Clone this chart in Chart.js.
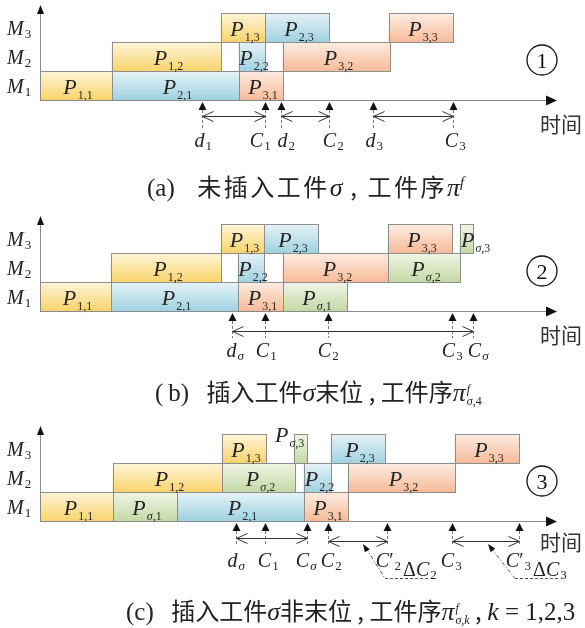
<!DOCTYPE html>
<html lang="zh">
<head>
<meta charset="UTF-8">
<title>插入工件σ的调度示意</title>
<script src="https://cdn.jsdelivr.net/npm/chart.js"></script>
<style>
  body { margin: 0; background: #fff; }
  #wrap { position: relative; width: 585px; height: 628px; overflow: hidden; }
  #wrap canvas { position: absolute; left: 0; }
  .cap { position: absolute; white-space: nowrap; color: #222; z-index: 2; letter-spacing: 0;
         font-family: "Noto Sans CJK SC", sans-serif; font-size: 24px; line-height: 28px; }
  .cap .m { font-family: "Liberation Serif", serif; font-size: 25px; letter-spacing: 0; }
  .cap i { font-family: "Liberation Serif", serif; font-size: 26px; letter-spacing: 0; }
  .cap.wide { letter-spacing: 2.5px; }
  .ss { display: inline-flex; flex-direction: column; font-family: "Liberation Serif", serif;
        font-size: 12px; line-height: 12px; vertical-align: 8px; margin-left: 1px; letter-spacing: 0; }
  .ss i, .ss span { font-size: 12px; }
  sup { font-size: 15px; letter-spacing: 0; }
  sup i { font-size: 15px !important; }
</style>
</head>
<body>
<div id="wrap">
  <canvas id="ca" width="585" height="200" style="top:0px"></canvas>
  <canvas id="cb" width="585" height="200" style="top:211px"></canvas>
  <canvas id="cc" width="585" height="200" style="top:421px"></canvas>

  <div class="cap wide" style="left:147px; top:167px"><span class="m">(a)</span>&ensp; 未插入工件<i>σ</i> , 工件序<i>π</i><sup><i>f</i></sup></div>
  <div class="cap" style="left:155px; top:377px"><span class="m">(&thinsp;b)</span>&ensp; 插入工件<i>σ</i>末位 , 工件序<i>π</i><span class="ss"><i>f</i><span><i>σ</i>,4</span></span></div>
  <div class="cap" style="left:126px; top:596px"><span class="m">(c)</span>&ensp; 插入工件<i>σ</i>非末位 , 工件序<i>π</i><span class="ss"><i>f</i><span><i>σ</i>,<i>k</i></span></span> , <i>k</i><span class="m"> = 1,2,3</span></div>
</div>

<script>
// machines, top row first
const machines = ['M3', 'M2', 'M1'];

// each job: [start, end] on M1, M2, M3 (time units)
// (a) without job sigma
const aJob1 = [[0, 72], [72, 181], [181, 225]];
const aJob2 = [[72, 199], [199, 225], [225, 289]];
const aJob3 = [[199, 243], [243, 350], [349, 413]];
const aMarkX = [162, 225, 241, 289, 333, 413];
const aMarkLabels = [['d', '1'], ['C', '1'], ['d', '2'], ['C', '2'], ['d', '3'], ['C', '3']];
const aSpans = [[162, 225], [241, 289], [333, 413]];

// (b) sigma appended last
const bJob1 = [[0, 71], [71, 181], [181, 224]];
const bJob2 = [[71, 198], [198, 224], [224, 278]];
const bJob3 = [[198, 243], [243, 348], [348, 412]];
const bJobS = [[243, 307], [348, 420], [420, 433]];
const bMarkX = [192, 225, 288, 412, 433];
const bMarkLabels = [['d', 'σ'], ['C', '1'], ['C', '2'], ['C', '3'], ['C', 'σ']];
const bSpans = [[192, 433]];

// (c) sigma inserted not last
const cJob1 = [[0, 73], [73, 182], [182, 226]];
const cJobS = [[73, 137], [182, 255], [254, 267]];
const cJob2 = [[137, 264], [264, 291], [291, 345]];
const cJob3 = [[264, 308], [308, 415], [415, 479]];
const cMarkX = [196, 225, 267, 288, 347, 412, 479];
const cMarkLabels = [['d', 'σ'], ['C', '1'], ['C', 'σ'], ['C', '2'], ['C′', '2'], ['C', '3'], ['C′', '3']];
const cSpans = [[196, 267], [288, 347], [412, 479]];
const cDeltaLabels = [['ΔC', '2'], ['ΔC', '3']];
const cDeltaAfter = [4, 6];
const cLeaders = [[323, 345, 388], [448, 475, 520]];

const SERIF = '"Liberation Serif", "DejaVu Serif", serif';
const jobColors = {
  '1': ['#fef6da', '#f9d36c'],
  '2': ['#e6f3f7', '#9fd1e0'],
  '3': ['#fdede3', '#f6bb99'],
  'σ': ['#f0f5e6', '#c4d9a6']
};

function fillFor(c, key) {
  const pal = jobColors[key];
  const ys = c.chart.scales.y;
  if (c.type !== 'data' || !ys || !c.raw) return pal[1];
  const h = (ys.bottom - ys.top) / machines.length;
  const yc = ys.getPixelForValue(machines.indexOf(c.raw.y));
  if (!Number.isFinite(yc) || !Number.isFinite(h) || h <= 0) return pal[1];
  const g = c.chart.ctx.createLinearGradient(0, yc - h / 2, 0, yc + h / 2);
  g.addColorStop(0, pal[0]);
  g.addColorStop(1, pal[1]);
  return g;
}

// italic letters, upright digits/greek capitals; returns width
function mathRun(ctx, x, y, main, sub, size, subSize, drop, draw) {
  let cx = x;
  const put = (ch, sz, yy) => {
    const it = /[A-Za-zσ]/.test(ch);
    ctx.font = (it ? 'italic ' : '') + sz + 'px ' + SERIF;
    if (draw) ctx.fillText(ch, cx, yy);
    cx += ctx.measureText(ch).width;
  };
  for (const ch of main) put(ch, size, y);
  cx += 1;
  for (const ch of sub) put(ch, subSize, y + drop);
  return cx - x;
}

function line(ctx, x1, y1, x2, y2) {
  ctx.beginPath(); ctx.moveTo(x1, y1); ctx.lineTo(x2, y2); ctx.stroke();
}
function tri(ctx, pts) {
  ctx.beginPath(); ctx.moveTo(pts[0], pts[1]); ctx.lineTo(pts[2], pts[3]); ctx.lineTo(pts[4], pts[5]);
  ctx.closePath(); ctx.fill();
}

function panelPlugin(p) {
  return {
    id: 'panel_' + p.id,
    afterDatasetsDraw(chart) {
      const { ctx, chartArea: a, scales } = chart;
      const X = v => scales.x.getPixelForValue(v);
      const ys = scales.y;
      const yb = Math.round(a.bottom);
      ctx.save();
      ctx.textAlign = 'left';
      ctx.textBaseline = 'alphabetic';

      // bar outlines + names
      chart.data.datasets.forEach((ds, di) => {
        chart.getDatasetMeta(di).data.forEach((bar, i) => {
          const pr = bar.getProps(['x', 'base', 'y', 'height'], true);
          const l = Math.round(Math.min(pr.x, pr.base)), r = Math.round(Math.max(pr.x, pr.base));
          const t = Math.round(pr.y - pr.height / 2);
          ctx.strokeStyle = '#8e8e8e'; ctx.lineWidth = 1; ctx.setLineDash([]);
          ctx.strokeRect(l + 0.5, t + 0.5, r - l, Math.round(pr.height));
        });
      });
      chart.data.datasets.forEach((ds, di) => {
        chart.getDatasetMeta(di).data.forEach((bar, i) => {
          const pr = bar.getProps(['x', 'base', 'y', 'height'], true);
          const l = Math.min(pr.x, pr.base), r = Math.max(pr.x, pr.base);
          const t = pr.y - pr.height / 2;
          const sub = ds.label + ',' + (i + 1);
          const mode = p.place[sub] || 'center';
          const w = mathRun(ctx, 0, 0, 'P', sub, 22, 12, 5, false);
          let lx = (l + r) / 2 - w / 2 + 2, ly = pr.y + 8;
          if (mode === 'start') lx = l + 1;
          if (mode === 'outside') { lx = l - 19; ly = t + 8; }
          ctx.fillStyle = '#262626';
          mathRun(ctx, lx, ly, 'P', sub, 22, 12, 5, true);
        });
      });

      // machine names
      ctx.fillStyle = '#222';
      ['M1', 'M2', 'M3'].forEach((m, k) => {
        const yc = ys.getPixelForValue(machines.indexOf(m));
        mathRun(ctx, 7, yc + 7, 'M', String(k + 1), 20, 13, 3, true);
      });

      // axes
      const x0 = Math.round(X(0)) + 0.5;
      ctx.strokeStyle = '#8a8a8a'; ctx.lineWidth = 1;
      line(ctx, x0, yb, x0, a.top - 2);
      ctx.fillStyle = '#111';
      tri(ctx, [x0, a.top - 8, x0 - 3.5, a.top + 1, x0 + 3.5, a.top + 1]);
      const tip = a.right - 3;
      ctx.strokeStyle = '#8a8a8a';
      line(ctx, x0, yb + 0.5, tip - 8, yb + 0.5);
      tri(ctx, [tip, yb + 0.5, tip - 11, yb - 4.5, tip - 11, yb + 5.5]);

      // due dates / completion markers
      p.marks.forEach((v, i) => {
        const mx = Math.round(X(v)) + 0.5;
        ctx.fillStyle = '#111';
        tri(ctx, [mx, yb + 2, mx - 4, yb + 10, mx + 4, yb + 10]);
        ctx.strokeStyle = '#777'; ctx.lineWidth = 1; ctx.setLineDash([3, 2]);
        line(ctx, mx, yb + 10, mx, yb + p.dashLen);
        ctx.setLineDash([]);
        const [main, sub] = p.markLabels[i];
        ctx.font = 'italic 20px ' + SERIF;
        const w0 = ctx.measureText(main[0]).width;
        ctx.fillStyle = '#222';
        const lx = mx - 3 + p.nudge[i] - w0 / 2;
        const w = mathRun(ctx, lx, yb + p.labelY, main, sub, 20, 13, 3, true);
        const di = p.deltaAfter ? p.deltaAfter.indexOf(i) : -1;
        if (di >= 0) {
          const [dm, ds] = p.deltaLabels[di];
          mathRun(ctx, lx + w + 2, yb + p.labelY + 9, dm, ds, 20, 13, 3, true);
        }
      });

      // interval arrows
      ctx.strokeStyle = '#333'; ctx.lineWidth = 1;
      p.spans.forEach(([s, e], i) => {
        const yy = yb + p.spanY[i] + 0.5;
        const l = Math.round(X(s)) + 0.5, r = Math.round(X(e)) + 0.5;
        line(ctx, l, yy, r, yy);
        ctx.beginPath(); ctx.moveTo(l + 11, yy - 5); ctx.lineTo(l, yy); ctx.lineTo(l + 11, yy + 5); ctx.stroke();
        ctx.beginPath(); ctx.moveTo(r - 11, yy - 5); ctx.lineTo(r, yy); ctx.lineTo(r - 11, yy + 5); ctx.stroke();
      });

      // leader lines for delta labels
      (p.leaders || []).forEach(([tx, ex, rx]) => {
        const ty = yb + 23, ey = yb + 57.5;
        const x1 = X(tx), x2 = X(ex), x3 = X(rx);
        ctx.strokeStyle = '#555'; ctx.lineWidth = 1;
        ctx.setLineDash([4, 2, 1, 2]);
        line(ctx, x1 + 3, ty + 4, x2, ey);
        ctx.setLineDash([3, 2]);
        line(ctx, x2, ey, x3, ey);
        ctx.setLineDash([]);
        const ang = Math.atan2(ty - ey, x1 - x2);
        const L = 8, Wd = 3;
        const bx = x1 - L * Math.cos(ang), by = ty - L * Math.sin(ang);
        ctx.fillStyle = '#111';
        tri(ctx, [x1, ty, bx + Wd * Math.sin(ang), by - Wd * Math.cos(ang), bx - Wd * Math.sin(ang), by + Wd * Math.cos(ang)]);
      });

      // circled index
      const cx = a.right - 18, cy = yb - 40;
      ctx.strokeStyle = '#111'; ctx.lineWidth = 1.3;
      ctx.beginPath(); ctx.arc(cx, cy, 15, 0, Math.PI * 2); ctx.stroke();
      ctx.fillStyle = '#111'; ctx.font = '22px ' + SERIF; ctx.textAlign = 'center';
      ctx.fillText(p.circle, cx, cy + 8);

      // time axis name
      ctx.textAlign = 'left'; ctx.fillStyle = '#333';
      ctx.font = '21px "Noto Sans CJK SC", sans-serif';
      ctx.fillText('时间', a.right - 20, yb + p.timeY);
      ctx.restore();
    }
  };
}

const panels = [
  { id: 'ca', jobs: [['1', aJob1], ['2', aJob2], ['3', aJob3]], marks: aMarkX, markLabels: aMarkLabels,
    nudge: [0, -6, 4, 3, 0, 1],
    spans: aSpans, spanY: [16, 16, 16], dashLen: 28, labelY: 47, timeY: 32, circle: '1', place: {} },
  { id: 'cb', jobs: [['1', bJob1], ['2', bJob2], ['3', bJob3], ['σ', bJobS]], marks: bMarkX, markLabels: bMarkLabels,
    nudge: [2, 0, -1, -1, 4],
    spans: bSpans, spanY: [20], dashLen: 27, labelY: 46, timeY: 32, circle: '2', place: { 'σ,3': 'start' } },
  { id: 'cc', jobs: [['1', cJob1], ['σ', cJobS], ['2', cJob2], ['3', cJob3]], marks: cMarkX, markLabels: cMarkLabels,
    nudge: [-1, 2, -2, 2, -2, -2, -4],
    spans: cSpans, spanY: [17, 20, 20], dashLen: 25, labelY: 46, timeY: 29, circle: '3', place: { 'σ,3': 'outside' },
    deltaLabels: cDeltaLabels, deltaAfter: cDeltaAfter, leaders: cLeaders }
];

panels.forEach(p => {
  new Chart(document.getElementById(p.id), {
    type: 'bar',
    data: {
      labels: machines,
      datasets: p.jobs.map(([key, spans]) => ({
        label: key,
        data: spans.map((s, k) => ({ x: s, y: 'M' + (k + 1) })),
        backgroundColor: c => fillFor(c, key),
        borderWidth: 0,
        grouped: false,
        barPercentage: 1,
        categoryPercentage: 1
      }))
    },
    options: {
      indexAxis: 'y',
      responsive: false,
      animation: false,
      events: [],
      layout: { padding: { left: 40, right: 25, top: 13, bottom: 100 } },
      scales: {
        x: { type: 'linear', min: 0, max: 520, display: false },
        y: { display: false }
      },
      plugins: { legend: { display: false }, tooltip: { enabled: false } }
    },
    plugins: [panelPlugin(p)]
  });
});
</script>
</body>
</html>
